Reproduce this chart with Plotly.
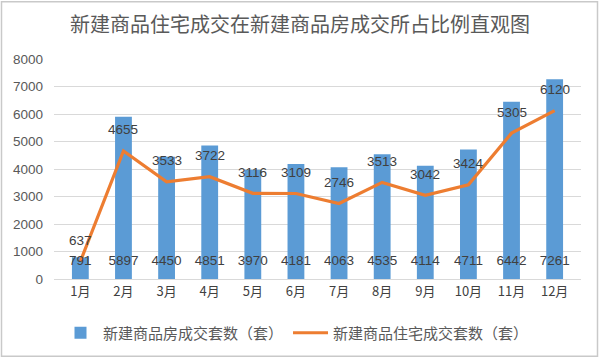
import plotly.graph_objects as go

months = ["1月", "2月", "3月", "4月", "5月", "6月", "7月", "8月", "9月", "10月", "11月", "12月"]
house_total = [791, 5897, 4450, 4851, 3970, 4181, 4063, 4535, 4114, 4711, 6442, 7261]
residential = [637, 4655, 3533, 3722, 3116, 3109, 2746, 3513, 3042, 3424, 5305, 6120]
bar_name = "新建商品房成交套数（套）"
line_name = "新建商品住宅成交套数（套）"
title_text = "新建商品住宅成交在新建商品房成交所占比例直观图"
y_ticks = [0, 1000, 2000, 3000, 4000, 5000, 6000, 7000, 8000]
bar_label_level = 620

NUM_FONT = "Liberation Sans"
CJK_FONT = "Noto Sans CJK SC"

fig = go.Figure()
fig.add_trace(go.Bar(
    x=months, y=house_total, name=bar_name,
    marker=dict(color="#5B9BD5", line=dict(width=0)),
))
fig.add_trace(go.Scatter(
    x=months, y=residential, name=line_name, mode="lines",
    line=dict(color="#ED7D31", width=3.2),
))
# bar value labels near base
fig.add_trace(go.Scatter(
    x=months, y=[bar_label_level] * len(months), mode="text",
    text=[str(v) for v in house_total], textposition="middle center",
    textfont=dict(family=NUM_FONT, size=13.5, color="#404040"),
    showlegend=False, hoverinfo="skip",
))

annotations = []
for m, v in zip(months, residential):
    annotations.append(dict(
        x=m, y=v, text=str(v), showarrow=False, yshift=21,
        font=dict(family=NUM_FONT, size=13.5, color="#404040"),
    ))

L, R, T, B = 54, 19, 59, 80
W, H = 600, 360
pw, ph = W - L - R, H - T - B

def px_to_paper_x(px):
    return (px - L) / pw

def px_to_paper_y(py):
    return (H - B - py) / ph

fig.update_layout(
    width=W, height=H,
    margin=dict(l=L, r=R, t=T, b=B),
    paper_bgcolor="white", plot_bgcolor="white",
    title=dict(text=title_text, x=0.5, xanchor="center", y=1 - 25 / H, yanchor="middle",
               font=dict(family=CJK_FONT, size=20, color="#595959")),
    bargap=0.61,
    showlegend=True,
    legend=dict(orientation="h", x=px_to_paper_x(296), xanchor="center",
                y=px_to_paper_y(333), yanchor="middle",
                font=dict(family=CJK_FONT, size=15, color="#595959"),
                itemwidth=35, traceorder="normal"),
    annotations=annotations,
    shapes=[dict(type="rect", xref="paper", yref="paper",
                 x0=px_to_paper_x(1.5), x1=px_to_paper_x(597.5),
                 y0=px_to_paper_y(357.5), y1=px_to_paper_y(1.5),
                 line=dict(color="#c9c9c9", width=1.5), layer="above")],
)
fig.update_xaxes(
    type="category", showgrid=False, showline=True, linecolor="#d9d9d9", linewidth=1,
    ticks="", tickfont=dict(family=CJK_FONT, size=13, color="#404040"),
    automargin=False,
)
fig.update_yaxes(
    range=[0, 8000], tickvals=y_ticks, showgrid=True, gridcolor="#d9d9d9", gridwidth=1,
    zeroline=False, showline=False, ticks="", ticklabelstandoff=10,
    tickfont=dict(family=NUM_FONT, size=13.5, color="#595959"),
    automargin=False,
)

fig.write_html(
    "out.html",
    config={"displayModeBar": False},
    post_script="document.body.style.margin='0';document.body.style.padding='0';",
)
